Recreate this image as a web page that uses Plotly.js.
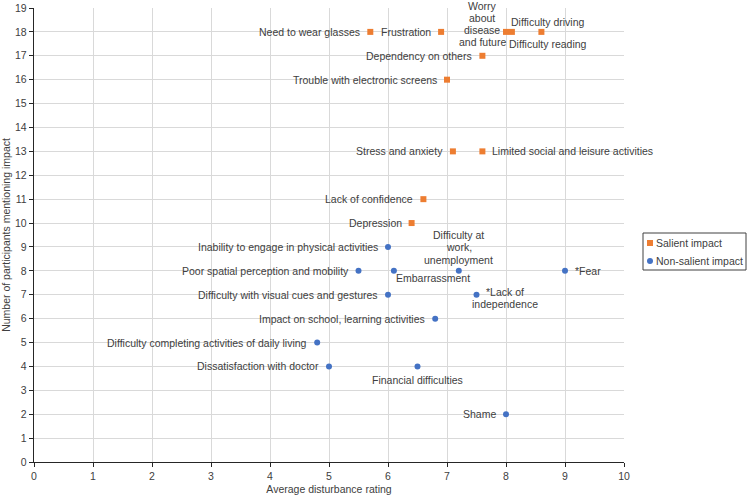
<!DOCTYPE html>
<html><head><meta charset="utf-8">
<script src="https://cdn.plot.ly/plotly-3.0.1.min.js"></script>
<style>html,body{margin:0;padding:0;background:#fff}</style>
</head><body><div id="chart" style="width:747px;height:496px"></div>
<script>
// ---- data ----
const salientLabels = ["Need to wear glasses", "Frustration", "Worry<br>about<br>disease<br>and future", "Difficulty driving", "Difficulty reading", "Dependency on others", "Trouble with electronic screens", "Stress and anxiety", "Limited social and leisure activities", "Lack of confidence", "Depression"];
const salientX = [5.7, 6.9, 8.0, 8.6, 8.1, 7.6, 7.0, 7.1, 7.6, 6.6, 6.4];
const salientY = [18, 18, 18, 18, 18, 17, 16, 13, 13, 11, 10];

const nonSalientLabels = ["Inability to engage in physical activities", "Poor spatial perception and mobility", "Embarrassment", "Difficulty at<br>work,<br>unemployment", "*Fear", "Difficulty with visual cues and gestures", "*Lack of<br>independence", "Impact on school, learning activities", "Difficulty completing activities of daily living", "Dissatisfaction with doctor", "Financial difficulties", "Shame"];
const nonSalientX = [6.0, 5.5, 6.1, 7.2, 9.0, 6.0, 7.5, 6.8, 4.8, 5.0, 6.5, 8.0];
const nonSalientY = [9, 8, 8, 8, 8, 7, 7, 6, 5, 4, 4, 2];

const xTicks = [0, 1, 2, 3, 4, 5, 6, 7, 8, 9, 10];
const yTicks = [0, 1, 2, 3, 4, 5, 6, 7, 8, 9, 10, 11, 12, 13, 14, 15, 16, 17, 18, 19];
const seriesNames = ["Salient impact", "Non-salient impact"];

// ---- label placement (style) ----
// [xanchor, xshift, yshift]
const salientPlace = [
  ["right", -10, 0], ["right", -10, 0], ["center", -24, 8], ["center", 6, 10], ["center", 36, -12],
  ["right", -10, 0], ["right", -10, 0], ["right", -10, 0], ["left", 10, 0], ["right", -10, 0], ["right", -10, 0]
];
const nonSalientPlace = [
  ["right", -10, 0], ["right", -10, 0], ["left", 2, -7], ["center", 0, 23.5], ["left", 10, 0],
  ["right", -10, 0], ["center", 28, -3], ["right", -10, 0], ["right", -10, 0], ["right", -10, 0],
  ["center", 0, -14], ["right", -10, 0]
];
const LINE_H = 12.2;

const ORANGE = "#ED7D31", BLUE = "#4472C4", TXT = "#404040";
const FONT = "Liberation Sans, Arial, sans-serif";
const FS = 10.5;

const traces = [
  {type: "scatter", mode: "markers", name: seriesNames[0], x: salientX, y: salientY, text: salientLabels,
   marker: {symbol: "square", size: 6, color: ORANGE}, hoverinfo: "text"},
  {type: "scatter", mode: "markers", name: seriesNames[1], x: nonSalientX, y: nonSalientY, text: nonSalientLabels,
   marker: {symbol: "circle", size: 6, color: BLUE}, hoverinfo: "text"}
];

const annotations = [];
function addLabels(labels, xs, ys, place) {
  labels.forEach((t, i) => {
    const p = place[i];
    const lines = t.split("<br>");
    const n = lines.length;
    lines.forEach((ln, k) => {
      annotations.push({x: xs[i], y: ys[i], xref: "x", yref: "y", text: ln, showarrow: false,
        xanchor: p[0], yanchor: "middle", xshift: p[1], yshift: p[2] + ((n - 1) / 2 - k) * LINE_H,
        align: "center", borderpad: 0, borderwidth: 0, font: {family: FONT, size: FS, color: TXT}});
    });
  });
}
addLabels(salientLabels, salientX, salientY, salientPlace);
addLabels(nonSalientLabels, nonSalientX, nonSalientY, nonSalientPlace);

// ---- custom legend (pixel placement converted to paper coords) ----
const ML = 34, MT = 8, MB = 34, W = 747, H = 496;
const PW = 590, PH = H - MT - MB;
const px = v => (v - ML) / PW;
const py = v => (H - MB - v) / PH;
const shapes = [
  {type: "rect", xref: "paper", yref: "paper", x0: px(643), x1: px(746), y0: py(270), y1: py(233),
   line: {color: "#404040", width: 1}, fillcolor: "#ffffff"},
  {type: "rect", xref: "paper", yref: "paper", xsizemode: "pixel", ysizemode: "pixel",
   xanchor: px(650), yanchor: py(243), x0: -3, x1: 3, y0: -3, y1: 3, line: {width: 0}, fillcolor: ORANGE},
  {type: "circle", xref: "paper", yref: "paper", xsizemode: "pixel", ysizemode: "pixel",
   xanchor: px(650), yanchor: py(261), x0: -3, x1: 3, y0: -3, y1: 3, line: {width: 0}, fillcolor: BLUE}
];
annotations.push({xref: "paper", yref: "paper", x: px(655), y: py(243), xanchor: "left", yanchor: "middle",
  text: seriesNames[0], showarrow: false, borderpad: 0, font: {family: FONT, size: FS, color: TXT}});
annotations.push({xref: "paper", yref: "paper", x: px(655), y: py(261), xanchor: "left", yanchor: "middle",
  text: seriesNames[1], showarrow: false, borderpad: 0, font: {family: FONT, size: FS, color: TXT}});

const axisCommon = {
  showgrid: true, gridcolor: "#d9d9d9", gridwidth: 1, zeroline: false,
  showline: true, linecolor: "#262626", linewidth: 1.3,
  ticks: "outside", ticklen: 4, tickcolor: "#262626", tickwidth: 1,
  tickfont: {family: FONT, size: FS, color: TXT}, automargin: false, fixedrange: true
};

const layout = {
  width: W, height: H,
  margin: {l: ML, r: W - ML - PW, t: MT, b: MB, pad: 0},
  paper_bgcolor: "#ffffff", plot_bgcolor: "#ffffff",
  showlegend: false,
  font: {family: FONT, size: FS, color: TXT},
  xaxis: Object.assign({}, axisCommon, {range: [0, 10], tickmode: "array", tickvals: xTicks, ticktext: xTicks.map(String),
    title: {text: "Average disturbance rating", font: {family: FONT, size: FS, color: TXT}, standoff: 4}}),
  yaxis: Object.assign({}, axisCommon, {range: [0, 19], tickmode: "array", tickvals: yTicks, ticktext: yTicks.map(String),
    title: {text: "Number of participants mentioning impact", font: {family: FONT, size: FS, color: TXT}, standoff: 2}}),
  shapes: shapes,
  annotations: annotations
};

Plotly.newPlot("chart", traces, layout, {displayModeBar: false, staticPlot: true});
</script></body></html>
